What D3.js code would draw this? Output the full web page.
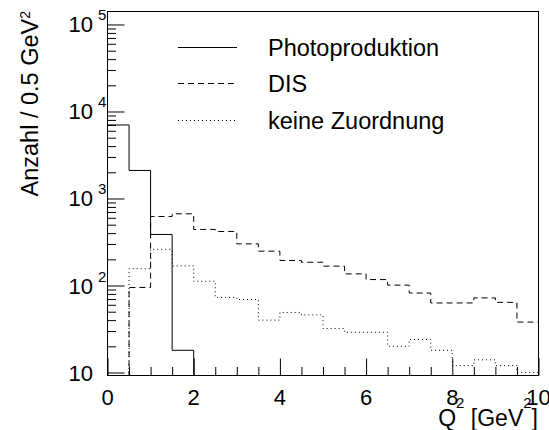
<!DOCTYPE html>
<html>
<head>
<meta charset="utf-8">
<script src="https://cdn.jsdelivr.net/npm/d3@7/dist/d3.min.js"></script>
<style>
  html, body { margin: 0; padding: 0; background: #fff; }
  svg { display: block; }
  text { font-family: "Liberation Sans", Arial, Helvetica, sans-serif; fill: #000; }
</style>
</head>
<body>
<svg id="chart" width="549" height="430"></svg>
<script>
// ---- data ----
const binEdges = [0, 0.5, 1, 1.5, 2, 2.5, 3, 3.5, 4, 4.5, 5, 5.5, 6, 6.5, 7, 7.5, 8, 8.5, 9, 9.5, 10];
const photoproduktion = [7000, 2100, 386, 18, 0, 0, 0, 0, 0, 0, 0, 0, 0, 0, 0, 0, 0, 0, 0, 0];
const dis = [0, 95, 621, 667, 441, 418, 301, 248, 194, 185, 167, 136, 117, 101, 82, 63, 63, 72, 64, 38];
const keineZuordnung = [0, 156, 261, 168, 112, 73, 69, 40, 49, 46, 32, 29, 29, 20, 24, 18, 12, 14, 12, 10];
const seriesNames = ["Photoproduktion", "DIS", "keine Zuordnung"];
const xTickLabels = ["0", "2", "4", "6", "8", "10"];
const xMajorTicks = [0, 2, 4, 6, 8, 10];
const yMajorExponents = [1, 2, 3, 4, 5];

// ---- layout ----
const svg = d3.select("#chart");
const L = 107.5, R = 538.5, T = 11.5, B = 375.5;
const yMin = 9.24, yMax = 1.41e5;

const x = d3.scaleLinear().domain([0, 10]).range([L, R]);
const y = d3.scaleLog().domain([yMin, yMax]).range([B, T]);

// frame
svg.append("rect").attr("x", L).attr("y", T).attr("width", R - L).attr("height", B - T)
  .attr("fill", "none").attr("stroke", "#000").attr("stroke-width", 1);

// histograms
function stepPoints(vals) {
  const pts = [[binEdges[0], yMin]];
  vals.forEach((v, i) => {
    const vv = Math.max(v, yMin);
    pts.push([binEdges[i], vv]);
    pts.push([binEdges[i + 1], vv]);
  });
  pts.push([binEdges[binEdges.length - 1], yMin]);
  return pts;
}
const line = d3.line().x(d => x(d[0])).y(d => y(d[1]));
const styles = [
  { data: photoproduktion, dash: null },
  { data: dis, dash: "6,4" },
  { data: keineZuordnung, dash: "1,3" }
];
const gHist = svg.append("g");
styles.forEach(s => {
  gHist.append("path").attr("d", line(stepPoints(s.data)))
    .attr("fill", "none").attr("stroke", "#000").attr("stroke-width", 1)
    .attr("stroke-dasharray", s.dash);
});

// y axis ticks
const yMajors = yMajorExponents.map(e => Math.pow(10, e));
const yMinors = [];
for (let e = 0; e <= 5; e++) for (let k = 2; k <= 9; k++) {
  const v = k * Math.pow(10, e);
  if (v > yMin && v < yMax) yMinors.push(v);
}
svg.append("g").attr("transform", `translate(${L},0)`)
  .call(d3.axisLeft(y).tickValues(yMajors).tickSize(-17).tickSizeOuter(0).tickFormat(""))
  .call(g => g.select(".domain").remove())
  .selectAll("line").attr("stroke", "#000");
svg.append("g").attr("transform", `translate(${L},0)`)
  .call(d3.axisLeft(y).tickValues(yMinors).tickSize(-8.5).tickSizeOuter(0).tickFormat(""))
  .call(g => g.select(".domain").remove())
  .selectAll("line").attr("stroke", "#000");

// x axis ticks
const xMinors = binEdges.filter(v => xMajorTicks.indexOf(v) < 0);
svg.append("g").attr("transform", `translate(0,${B})`)
  .call(d3.axisBottom(x).tickValues(xMajorTicks).tickSize(-17).tickSizeOuter(0).tickFormat(""))
  .call(g => g.select(".domain").remove())
  .selectAll("line").attr("stroke", "#000");
svg.append("g").attr("transform", `translate(0,${B})`)
  .call(d3.axisBottom(x).tickValues(xMinors).tickSize(-8.5).tickSizeOuter(0).tickFormat(""))
  .call(g => g.select(".domain").remove())
  .selectAll("line").attr("stroke", "#000");

// y tick labels
yMajorExponents.forEach(e => {
  const yy = y(Math.pow(10, e));
  svg.append("text").attr("x", 93).attr("y", yy + 8).attr("text-anchor", "end")
    .attr("font-size", 22).text("10");
  if (e > 1) {
    svg.append("text").attr("x", 98).attr("y", yy - 4)
      .attr("font-size", 15).text(String(e));
  }
});

// x tick labels
xMajorTicks.forEach((v, i) => {
  svg.append("text").attr("x", x(v)).attr("y", 405).attr("text-anchor", "middle")
    .attr("font-size", 22).text(xTickLabels[i]);
});

// x title
const xt = svg.append("text").attr("x", 538).attr("y", 426).attr("text-anchor", "end").attr("font-size", 23);
xt.append("tspan").text("Q");
xt.append("tspan").attr("font-size", 15).attr("dy", -18).text("2");
xt.append("tspan").attr("dy", 18).text(" [GeV");
xt.append("tspan").attr("font-size", 15).attr("dy", -18).text("2");
xt.append("tspan").attr("dy", 18).text("]");

// y title
const yt = svg.append("text").attr("transform", "translate(37.5,11) rotate(-90)")
  .attr("text-anchor", "end").attr("font-size", 23.5);
yt.append("tspan").text("Anzahl / 0.5 GeV");
yt.append("tspan").attr("font-size", 14).attr("dy", -8).text("2");

// legend
const legY = [47.5, 83.5, 120.5];
styles.forEach((s, i) => {
  svg.append("line").attr("x1", 178).attr("x2", 237).attr("y1", legY[i]).attr("y2", legY[i])
    .attr("stroke", "#000").attr("stroke-width", 1).attr("stroke-dasharray", s.dash);
  svg.append("text").attr("x", 268).attr("y", legY[i] + 8).attr("font-size", 23.5).text(seriesNames[i]);
});
</script>
</body>
</html>
